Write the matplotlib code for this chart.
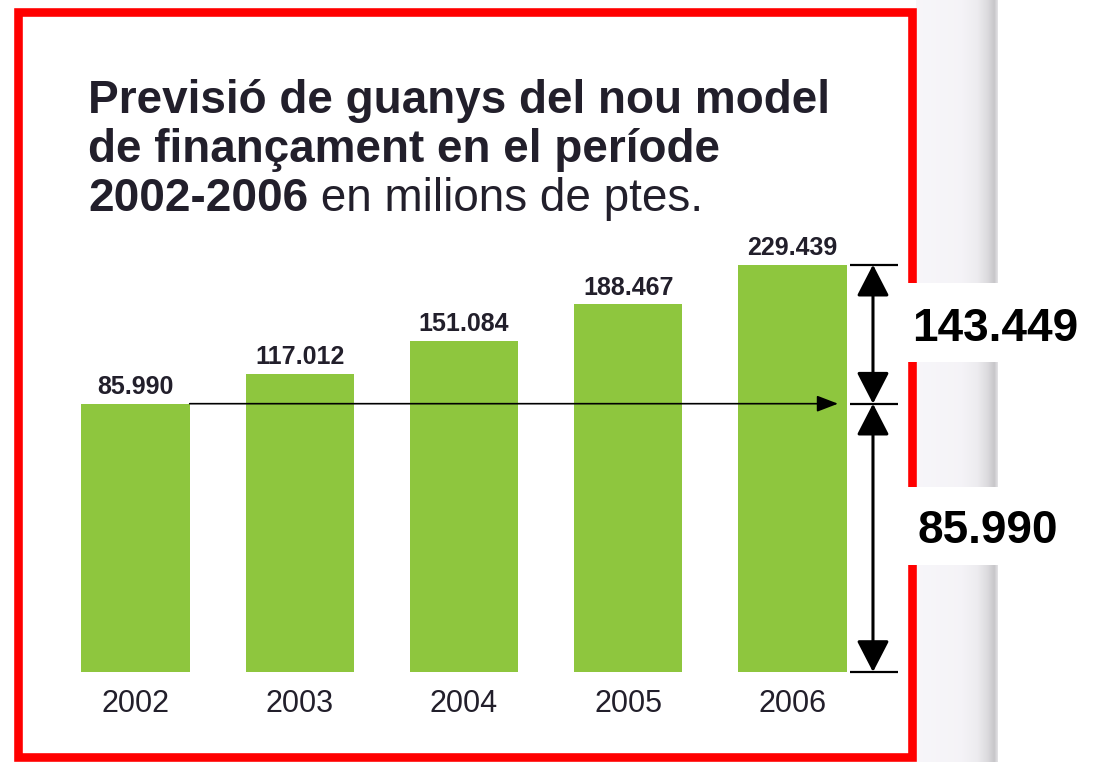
import numpy as np
import matplotlib
matplotlib.use("Agg")
import matplotlib.pyplot as plt
from matplotlib.patches import Rectangle, FancyArrowPatch

plt.rcParams['font.family'] = ['Liberation Sans', 'DejaVu Sans']

# dades (milions de ptes.)
anys = ['2002', '2003', '2004', '2005', '2006']
guanys = [85.990, 117.012, 151.084, 188.467, 229.439]
etiquetes = ['85.990', '117.012', '151.084', '188.467', '229.439']
diferencia = guanys[-1] - guanys[0]   # 143.449

W, H = 1094, 762
fig = plt.figure(figsize=(W / 100, H / 100), dpi=100)
fig.patch.set_facecolor('white')

def fx(px):
    return px / W

def fy(py):
    return 1 - py / H

# vora de la pagina escanejada (dreta)
bg = fig.add_axes([fx(916), 0, fx(998) - fx(916), 1], zorder=-1)
pos = np.array([0, 0.55, 0.75, 0.88, 0.96, 1.0])
val = np.array([0.97, 0.96, 0.93, 0.86, 0.78, 0.88])
grad = np.interp(np.linspace(0, 1, 82), pos, val)
img = np.dstack([grad, grad * 0.995, grad * 1.01])
img = np.clip(np.repeat(img, 4, axis=0), 0, 1)
bg.imshow(img, aspect='auto', extent=[0, 1, 0, 1])
bg.axis('off')

# eix principal en "pixels"
terra = -190.9          # base truncada de les barres
px_unit = 0.969         # pixels per unitat
ax = fig.add_axes([0, 0, 1, 1])
ax.set_facecolor('none')
ax.set_xlim((0 - 135.5) / 164.25, (W - 135.5) / 164.25)
ax.set_ylim(terra - (H - 672) / px_unit, terra + 672 / px_unit)
ax.axis('off')

x = np.arange(len(anys))
amplada = 0.66
ax.bar(x, np.array(guanys) - terra, bottom=terra, width=amplada,
       color='#8ec63e', edgecolor='none')

for i in range(len(anys)):
    ax.annotate(etiquetes[i], (x[i], guanys[i]), xytext=(0, 7),
                textcoords='offset points', ha='center', va='baseline',
                fontsize=18, fontweight='bold', color='#221f2b')
    ax.annotate(anys[i], (x[i], terra), xytext=(0, -29),
                textcoords='offset points', ha='center', va='baseline',
                fontsize=22, color='#221f2b')

# fletxa horitzontal des de 2002
ax.add_patch(FancyArrowPatch((x[0] + amplada / 2, guanys[0]), (4.277, guanys[0]),
                             arrowstyle='-|>,head_length=1.3,head_width=0.5',
                             mutation_scale=10, lw=1.2, color='black',
                             shrinkA=0, shrinkB=0))

# cotes a la dreta
xa, xb, xm = 4.35, 4.64, 4.49
for v in [guanys[-1], guanys[0], terra]:
    ax.plot([xa, xb], [v, v], color='black', lw=1.6, solid_capstyle='butt')
for y0, y1 in [(guanys[0], guanys[-1]), (terra, guanys[0])]:
    ax.add_patch(FancyArrowPatch((xm, y0), (xm, y1),
                                 arrowstyle='<|-|>,head_length=0.97,head_width=0.5',
                                 mutation_scale=20, lw=2.2, color='black',
                                 shrinkA=0, shrinkB=0))

# marc vermell
fig.patches.append(Rectangle((fx(18), fy(757)), fx(912) - fx(18), fy(11.5) - fy(757),
                             transform=fig.transFigure, fill=False,
                             edgecolor='#ff0000', lw=6.2, zorder=1))
# caixes blanques per a les xifres
for top, bot in [(283, 362), (487, 565)]:
    fig.patches.append(Rectangle((fx(904), fy(bot)), 1 - fx(904), fy(top) - fy(bot),
                                 transform=fig.transFigure, facecolor='white',
                                 edgecolor='none', zorder=2))

fig.text(fx(995), fy(341), '{:.3f}'.format(diferencia),
         ha='center', va='baseline', fontsize=33, fontweight='bold',
         color='black', zorder=3)
fig.text(fx(988), fy(543), etiquetes[0], ha='center', va='baseline',
         fontsize=33, fontweight='bold', color='black', zorder=3)

# titol
tcol = '#221f2b'
fig.text(fx(88), fy(113), 'Previsió de guanys del nou model', fontsize=33,
         fontweight='bold', color=tcol, va='baseline')
fig.text(fx(88), fy(162), 'de finançament en el període', fontsize=33,
         fontweight='bold', color=tcol, va='baseline')
t3 = fig.text(fx(88), fy(211), '2002-2006', fontsize=33, fontweight='bold',
              color=tcol, va='baseline')
r = fig.canvas.get_renderer()
bb = t3.get_window_extent(r)
fig.text(bb.x1 / W, fy(211), ' en milions de ptes.', fontsize=33,
         color=tcol, va='baseline')

fig.savefig('out.png', dpi=100)
